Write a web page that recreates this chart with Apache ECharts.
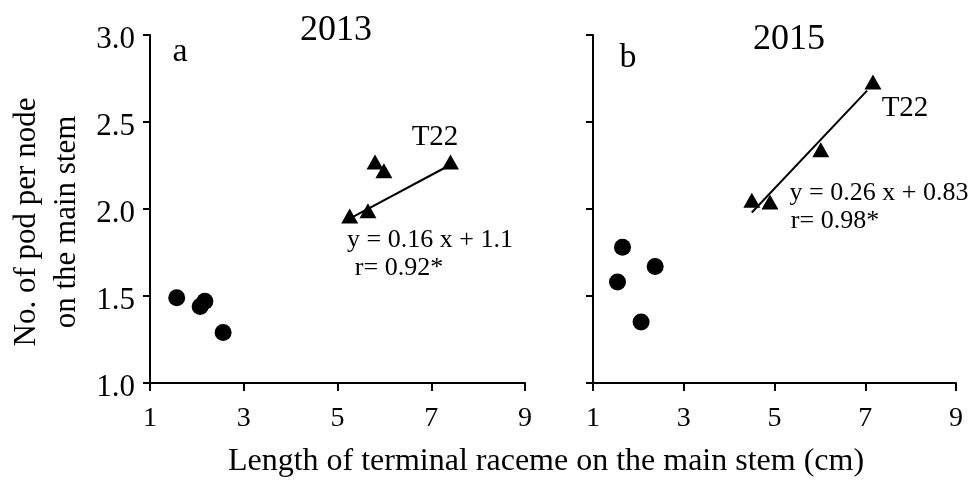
<!DOCTYPE html>
<html>
<head>
<meta charset="utf-8">
<script src="https://cdn.jsdelivr.net/npm/echarts@6/dist/echarts.min.js"></script>
<style>
html,body{margin:0;padding:0;background:#fff;}
#chart{width:971px;height:483px;}
</style>
</head>
<body>
<div id="chart"></div>
<script>
// ---- data ----
var xTicks = [1, 3, 5, 7, 9];
var yTicks = [1.0, 1.5, 2.0, 2.5, 3.0];

// Panel a: 2013
var circles2013X = [1.57, 2.07, 2.17, 2.56];
var circles2013Y = [1.49, 1.44, 1.47, 1.29];
var triangles2013X = [5.26, 5.65, 5.80, 5.99, 7.41];
var triangles2013Y = [1.96, 1.99, 2.27, 2.22, 2.27];
var fit2013X = [5.30, 7.38];
var fit2013Y = [1.95, 2.25];

// Panel b: 2015
var circles2015X = [1.65, 1.54, 2.37, 2.06];
var circles2015Y = [1.78, 1.58, 1.67, 1.35];
var triangles2015X = [4.50, 4.90, 6.02, 7.17];
var triangles2015Y = [2.05, 2.04, 2.34, 2.73];
var fit2015X = [4.50, 7.04];
var fit2015Y = [1.98, 2.68];

var panelTitles = ['2013', '2015'];
var panelLetters = ['a', 'b'];
var equations = ['y = 0.16 x + 1.1', 'y = 0.26 x + 0.83'];
var rValues = ['r= 0.92*', 'r= 0.98*'];
var pointLabel = 'T22';
var yTitle = ['No. of pod per node', 'on the main stem'];
var xTitle = 'Length of terminal raceme on the main stem (cm)';

function pairs(xs, ys) { return xs.map(function (x, i) { return [x, ys[i]]; }); }

var FONT = "'Liberation Serif', 'Times New Roman', serif";
var chart = echarts.init(document.getElementById('chart'), null, {renderer: 'canvas'});

function xAxisDef(gi) {
  return {
    type: 'value', gridIndex: gi, min: 1, max: 9,
    axisLine: {show: true, onZero: false, lineStyle: {color: '#000', width: 2}},
    axisTick: {show: true, length: 8, lineStyle: {color: '#000', width: 2}, customValues: xTicks},
    axisLabel: {show: true, margin: 22, color: '#000', fontFamily: FONT, fontSize: 28, customValues: xTicks},
    splitLine: {show: false}
  };
}
function yAxisDef(gi, showLabels) {
  return {
    type: 'value', gridIndex: gi, min: 1, max: 3, interval: 0.5,
    axisLine: {show: true, onZero: false, lineStyle: {color: '#000', width: 2}},
    axisTick: {show: true, length: 7, lineStyle: {color: '#000', width: 2}},
    axisLabel: {show: showLabels, margin: 15, color: '#000',
      formatter: function (v) { return '{t|' + v.toFixed(1) + '}'; },
      rich: {t: {fontFamily: FONT, fontSize: 31, color: '#000', padding: [10, 0, 0, 0]}}},
    splitLine: {show: false}
  };
}

var series = [];
[[circles2013X, circles2013Y, triangles2013X, triangles2013Y, fit2013X, fit2013Y],
 [circles2015X, circles2015Y, triangles2015X, triangles2015Y, fit2015X, fit2015Y]].forEach(function (d, gi) {
  series.push({type: 'line', xAxisIndex: gi, yAxisIndex: gi, data: pairs(d[4], d[5]),
    symbol: 'none', lineStyle: {color: '#000', width: 2}, z: 2, silent: true});
  series.push({type: 'scatter', xAxisIndex: gi, yAxisIndex: gi, data: pairs(d[0], d[1]),
    symbol: 'circle', symbolSize: 17, itemStyle: {color: '#000', opacity: 1}, z: 3});
  series.push({type: 'scatter', xAxisIndex: gi, yAxisIndex: gi, data: pairs(d[2], d[3]),
    symbol: 'triangle', symbolSize: [17, 15], itemStyle: {color: '#000', opacity: 1}, z: 3});
});

function txt(text, x, y, size, align, extra) {
  var o = {type: 'text', x: x, y: y, style: {text: text, fill: '#000',
    font: size + 'px ' + FONT, textAlign: align || 'center', textVerticalAlign: 'middle'}};
  if (extra) for (var k in extra) o[k] = extra[k];
  return o;
}

var graphics = [
  txt(panelTitles[0], 336, 31, 36),
  txt(panelTitles[1], 789, 40, 36),
  txt(panelLetters[0], 180, 52, 34),
  txt(panelLetters[1], 628, 58, 34),
  txt(pointLabel, 435, 137, 29),
  txt(pointLabel, 905, 108, 29),
  txt(equations[0], 430, 240, 26),
  txt(rValues[0], 399, 268, 26),
  txt(equations[1], 879, 193, 26),
  txt(rValues[1], 835, 221, 26),
  txt(yTitle[0], 27, 222, 31, 'center', {rotation: Math.PI / 2}),
  txt(yTitle[1], 67, 222, 31, 'center', {rotation: Math.PI / 2}),
  txt(xTitle, 546, 462, 32)
];

chart.setOption({
  animation: false,
  backgroundColor: '#fff',
  grid: [
    {left: 150, top: 35, width: 375, height: 348},
    {left: 593, top: 35, width: 363, height: 348}
  ],
  xAxis: [xAxisDef(0), xAxisDef(1)],
  yAxis: [yAxisDef(0, true), yAxisDef(1, false)],
  series: series,
  graphic: graphics
});
</script>
</body>
</html>
